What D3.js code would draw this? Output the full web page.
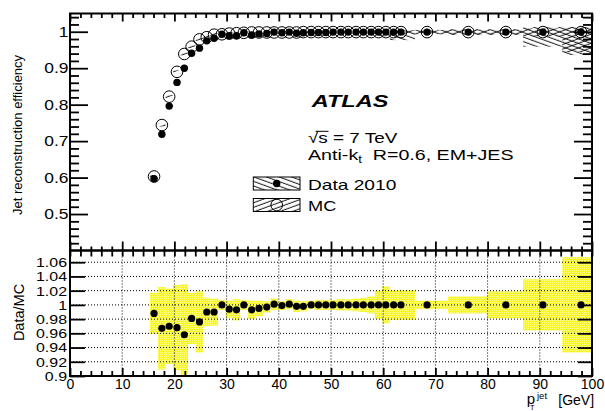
<!DOCTYPE html>
<html><head><meta charset="utf-8">
<script src="https://cdn.jsdelivr.net/npm/d3@7"></script>
<style>
body{margin:0;background:#fff}
text{font-family:"Liberation Sans",Arial,Helvetica,sans-serif;fill:#000}
</style>
</head><body>
<svg id="c" width="605" height="411" xmlns="http://www.w3.org/2000/svg"></svg>
<script>
// ---------------- data ----------------
const pt = [16.1,17.6,19.0,20.5,21.9,23.3,24.8,26.2,27.6,29.1,
            30.5,31.9,33.3,34.8,36.2,37.7,39.1,40.6,42.0,43.4,
            44.7,46.2,47.6,49.0,50.4,51.9,53.3,54.8,56.2,57.7,
            59.1,60.5,62.0,63.4,68.4,76.3,83.5,90.6,97.9];
const binEdges = [15.3,16.85,18.3,19.75,21.2,22.6,24.05,25.5,26.9,28.35,
                  29.8,31.2,32.6,34.05,35.5,36.95,38.4,39.85,41.3,42.7,
                  44.05,45.45,46.9,48.3,49.7,51.15,52.6,54.05,55.5,56.95,
                  58.4,59.8,61.25,62.7,66.1,72.4,80.0,86.8,94.3,100];
const effData = [0.597,0.719,0.796,0.861,0.900,0.941,0.955,0.975,0.982,0.993,
                 0.989,0.989,0.997,0.991,0.994,0.995,0.999,0.997,0.999,0.996,
                 0.997,0.998,0.998,0.998,0.999,0.999,0.999,0.999,0.999,0.999,
                 0.999,0.999,0.999,0.999,0.999,0.999,0.999,0.999,0.999];
const effMC = [0.603,0.744,0.822,0.890,0.939,0.959,0.979,0.985,0.992,0.993,
               0.995,0.996,0.997,0.998,0.998,0.998,0.998,0.998,0.998,0.998,
               0.999,0.999,0.999,0.999,0.999,0.999,0.999,0.999,0.999,0.999,
               0.999,0.999,0.999,0.999,0.999,0.999,0.999,0.999,0.999];
const errDataUp = [0.003,0.003,0.003,0.003,0.003,0.003,0.003,0.003,0.003,0.003,
                   0.003,0.003,0.003,0.003,0.003,0.003,0.003,0.003,0.003,0.003,
                   0.003,0.003,0.003,0.003,0.003,0.003,0.003,0.003,0.003,0.003,
                   0.004,0.004,0.005,0.005,0.006,0.008,0.008,0.014,0.014];
const errDataDn = [0.003,0.003,0.003,0.003,0.003,0.003,0.003,0.003,0.003,0.003,
                   0.003,0.003,0.003,0.003,0.003,0.003,0.003,0.003,0.003,0.003,
                   0.003,0.003,0.003,0.003,0.003,0.003,0.003,0.003,0.003,0.003,
                   0.010,0.012,0.022,0.022,0.006,0.008,0.008,0.040,0.063];
const errMCUp = [0.004,0.004,0.004,0.004,0.004,0.004,0.004,0.004,0.004,0.004,
                 0.004,0.004,0.004,0.004,0.004,0.004,0.004,0.004,0.004,0.004,
                 0.004,0.004,0.004,0.004,0.004,0.004,0.004,0.004,0.004,0.004,
                 0.005,0.005,0.005,0.005,0.005,0.006,0.006,0.010,0.014];
const errMCDn = [0.004,0.004,0.004,0.004,0.004,0.004,0.004,0.004,0.004,0.004,
                 0.004,0.004,0.004,0.004,0.004,0.004,0.004,0.004,0.004,0.004,
                 0.004,0.004,0.004,0.004,0.004,0.004,0.004,0.004,0.004,0.004,
                 0.005,0.005,0.005,0.005,0.005,0.006,0.006,0.012,0.055];
const ratio = [0.988,0.967,0.970,0.968,0.958,0.981,0.976,0.990,0.990,1.000,
               0.994,0.993,1.000,0.993,0.995,0.997,1.001,0.999,1.001,0.998,
               0.998,1.000,1.000,1.000,1.000,1.000,1.000,1.000,1.000,1.000,
               1.000,1.000,1.000,1.000,1.000,1.000,1.000,1.000,1.000];
const ratioErr = [0.029,0.058,0.053,0.060,0.071,0.036,0.043,0.020,0.019,0.007,
                  0.012,0.015,0.007,0.013,0.011,0.008,0.008,0.006,0.007,0.008,
                  0.007,0.006,0.007,0.007,0.007,0.008,0.008,0.009,0.010,0.012,
                  0.020,0.026,0.021,0.021,0.006,0.012,0.019,0.036,0.067];
const xTickValues = [0,10,20,30,40,50,60,70,80,90,100];
const xTickLabels = ["0","10","20","30","40","50","60","70","80","90","100"];
const yTopTickValues = [0.5,0.6,0.7,0.8,0.9,1.0];
const yTopTickLabels = ["0.5","0.6","0.7","0.8","0.9","1"];
const yBotTickValues = [0.9,0.92,0.94,0.96,0.98,1.0,1.02,1.04,1.06];
const yBotTickLabels = ["0.9","0.92","0.94","0.96","0.98","1","1.02","1.04","1.06"];
const legendLabels = ["Data 2010","MC"];

// ---------------- layout ----------------
const L = 70, R = 592, TT = 13.5, MID = 250.5, BB = 376;
const svg = d3.select("#c");
const x = d3.scaleLinear().domain([0,100]).range([L,R]);
const yT = d3.scaleLinear().domain([0.4,1.05]).range([MID,TT]);
const yB = d3.scaleLinear().domain([0.9,1.0765]).range([BB,MID]);
const xMinor = d3.range(0,101,2).filter(v=>v%10!==0);
const yTopMinor = d3.range(0.42,1.05,0.02).filter(v=>Math.abs(v*10-Math.round(v*10))>1e-6);

const defs = svg.append("defs");
function hatch(id, ang){
  const p = defs.append("pattern").attr("id",id).attr("patternUnits","userSpaceOnUse")
    .attr("width",12).attr("height",4.3).attr("patternTransform",`rotate(${ang})`);
  p.append("line").attr("x1",0).attr("x2",12).attr("y1",2).attr("y2",2)
    .attr("stroke","#000").attr("stroke-width",0.9);
}
hatch("hData",20); hatch("hMC",-20);
const yp = defs.append("pattern").attr("id","yel").attr("patternUnits","userSpaceOnUse")
  .attr("width",2).attr("height",2);
yp.append("rect").attr("width",2).attr("height",2).attr("fill","#f8f820").attr("shape-rendering","crispEdges");
yp.append("rect").attr("x",0).attr("y",0).attr("width",1).attr("height",1).attr("fill","#ffff80").attr("shape-rendering","crispEdges");
defs.append("clipPath").attr("id","cT").append("rect").attr("x",L).attr("y",TT).attr("width",R-L).attr("height",MID-TT);
defs.append("clipPath").attr("id","cB").append("rect").attr("x",L).attr("y",MID).attr("width",R-L).attr("height",BB-MID);

function stretch(sel, f){
  sel.each(function(){
    const n = this.getComputedTextLength();
    d3.select(this).attr("textLength", n*f).attr("lengthAdjust","spacingAndGlyphs");
  });
}
function axis(gen, tf){
  const g = svg.append("g").attr("transform",tf).call(gen);
  g.select(".domain").remove();
  g.selectAll(".tick line").attr("stroke","#000").attr("stroke-width",1.8);
  g.attr("font-family",null);
  g.selectAll("text").attr("font-family",'"Liberation Sans",Arial,sans-serif').attr("fill","#000");
  return g;
}
const idx = d3.range(pt.length);

// ---------------- top panel ----------------
const gT = svg.append("g").attr("clip-path","url(#cT)");
gT.selectAll("rect.bd").data(idx).join("rect").attr("class","bd")
  .attr("x",i=>x(binEdges[i])).attr("width",i=>x(binEdges[i+1])-x(binEdges[i]))
  .attr("y",i=>yT(effData[i]+errDataUp[i])).attr("height",i=>yT(effData[i]-errDataDn[i])-yT(effData[i]+errDataUp[i]))
  .attr("fill","url(#hData)");
gT.selectAll("rect.bm").data(idx).join("rect").attr("class","bm")
  .attr("x",i=>x(binEdges[i])).attr("width",i=>x(binEdges[i+1])-x(binEdges[i]))
  .attr("y",i=>yT(effMC[i]+errMCUp[i])).attr("height",i=>yT(effMC[i]-errMCDn[i])-yT(effMC[i]+errMCUp[i]))
  .attr("fill","url(#hMC)");
gT.selectAll("circle.mc").data(idx).join("circle").attr("class","mc")
  .attr("cx",i=>x(pt[i])).attr("cy",i=>yT(effMC[i])).attr("r",5.8)
  .attr("fill","none").attr("stroke","#000").attr("stroke-width",1);
gT.selectAll("circle.dt").data(idx).join("circle").attr("class","dt")
  .attr("cx",i=>x(pt[i])).attr("cy",i=>yT(effData[i])).attr("r",3.7).attr("fill","#000");

// top axes
const lt = axis(d3.axisLeft(yT).tickValues(yTopTickValues).tickFormat((d,i)=>yTopTickLabels[i])
  .tickSizeInner(-18).tickSizeOuter(0).tickPadding(1.5), `translate(${L},0)`);
lt.selectAll("text").attr("font-size",14.5); stretch(lt.selectAll("text"),1.2);
axis(d3.axisLeft(yT).tickValues(yTopMinor).tickFormat("").tickSizeInner(-9).tickSizeOuter(0), `translate(${L},0)`);
axis(d3.axisRight(yT).tickValues(yTopTickValues).tickFormat("").tickSizeInner(-18).tickSizeOuter(0), `translate(${R},0)`);
axis(d3.axisRight(yT).tickValues(yTopMinor).tickFormat("").tickSizeInner(-9).tickSizeOuter(0), `translate(${R},0)`);
axis(d3.axisBottom(x).tickValues(xTickValues).tickFormat("").tickSizeInner(8).tickSizeOuter(0), `translate(0,${TT})`);
axis(d3.axisBottom(x).tickValues(xMinor).tickFormat("").tickSizeInner(4.5).tickSizeOuter(0), `translate(0,${TT})`);
axis(d3.axisTop(x).tickValues(xTickValues).tickFormat("").tickSizeInner(9).tickSizeOuter(0), `translate(0,${MID})`);
axis(d3.axisTop(x).tickValues(xMinor).tickFormat("").tickSizeInner(4).tickSizeOuter(0), `translate(0,${MID})`);
svg.append("rect").attr("x",L).attr("y",TT).attr("width",R-L).attr("height",MID-TT)
  .attr("fill","none").attr("stroke","#000").attr("stroke-width",2);

// ---------------- bottom panel ----------------
const gB = svg.append("g").attr("clip-path","url(#cB)");
gB.selectAll("rect.band").data(idx).join("rect").attr("class","band")
  .attr("x",i=>x(binEdges[i])).attr("width",i=>x(binEdges[i+1])-x(binEdges[i]))
  .attr("y",i=>yB(ratio[i]+ratioErr[i])).attr("height",i=>yB(ratio[i]-ratioErr[i])-yB(ratio[i]+ratioErr[i]))
  .attr("fill","url(#yel)");
gB.selectAll("line.gy").data(yBotTickValues.slice(1)).join("line").attr("class","gy")
  .attr("x1",L).attr("x2",R).attr("y1",d=>yB(d)).attr("y2",d=>yB(d))
  .attr("stroke","#000").attr("stroke-width",1).attr("stroke-dasharray","1,2");
gB.selectAll("line.gx").data(xTickValues.slice(1,-1)).join("line").attr("class","gx")
  .attr("x1",d=>x(d)).attr("x2",d=>x(d)).attr("y1",MID).attr("y2",BB)
  .attr("stroke","#000").attr("stroke-width",1).attr("stroke-dasharray","1,2");
gB.selectAll("circle.r").data(idx).join("circle").attr("class","r")
  .attr("cx",i=>x(pt[i])).attr("cy",i=>yB(ratio[i])).attr("r",3.6).attr("fill","#000");

const lb = axis(d3.axisLeft(yB).tickValues(yBotTickValues).tickFormat((d,i)=>yBotTickLabels[i])
  .tickSizeInner(-15).tickSizeOuter(0).tickPadding(3), `translate(${L},0)`);
lb.selectAll("text").attr("font-size",13.5); stretch(lb.selectAll("text"),1.18);
axis(d3.axisRight(yB).tickValues(yBotTickValues).tickFormat("").tickSizeInner(-14).tickSizeOuter(0), `translate(${R},0)`);
const bx = axis(d3.axisBottom(x).tickValues(xTickValues).tickFormat((d,i)=>xTickLabels[i])
  .tickSizeInner(-8).tickSizeOuter(0).tickPadding(3), `translate(0,${BB})`);
bx.selectAll("text").attr("font-size",14);
axis(d3.axisBottom(x).tickValues(xMinor).tickFormat("").tickSizeInner(-5).tickSizeOuter(0), `translate(0,${BB})`);
axis(d3.axisBottom(x).tickValues(xTickValues).tickFormat("").tickSizeInner(6).tickSizeOuter(0), `translate(0,${MID})`);
axis(d3.axisBottom(x).tickValues(xMinor).tickFormat("").tickSizeInner(6).tickSizeOuter(0), `translate(0,${MID})`);
svg.append("rect").attr("x",L).attr("y",MID).attr("width",R-L).attr("height",BB-MID)
  .attr("fill","none").attr("stroke","#000").attr("stroke-width",2);

// ---------------- axis titles ----------------
svg.append("text").attr("transform","translate(22,135) rotate(-90)").attr("text-anchor","middle")
  .attr("font-size",13).text("Jet reconstruction efficiency");
svg.append("text").attr("transform","translate(23.5,312.5) rotate(-90)").attr("text-anchor","middle")
  .attr("font-size",14.5).text("Data/MC");
const xt = svg.append("text").attr("x",526.7).attr("y",404).attr("font-size",15);
xt.append("tspan").text("p");
xt.append("tspan").attr("font-size",9.5).attr("x",537).attr("dy",-5.5).text("jet");
xt.append("tspan").attr("font-size",7.5).attr("x",530).attr("dy",11.5).text("T");
xt.append("tspan").attr("font-size",14).attr("x",558.3).attr("dy",-5).text("[GeV]");

// ---------------- labels ----------------
svg.append("text").attr("x",311.7).attr("y",106.7).attr("font-size",16.5).attr("font-weight","bold")
  .attr("font-style","italic").attr("textLength",76.7).attr("lengthAdjust","spacingAndGlyphs").text("ATLAS");
const gs = svg.append("g").attr("transform","translate(308,143.3) scale(1.26,1)");
const ts = gs.append("text").attr("font-size",15);
ts.append("tspan").text("\u221A");
ts.append("tspan").text("s");
ts.append("tspan").text(" = 7 TeV");
{
  const n = ts.node();
  const s1 = n.getEndPositionOfChar(1).x;
  const r0 = n.getStartPositionOfChar(0).x;
  gs.append("line").attr("x1",r0+6).attr("x2",s1+0.5).attr("y1",-12).attr("y2",-12)
    .attr("stroke","#000").attr("stroke-width",1);
}
const ga = svg.append("g").attr("transform","translate(308,159.5) scale(1.31,1)");
const ta = ga.append("text").attr("font-size",15).style("white-space","pre");
ta.append("tspan").text("Anti-k");
ta.append("tspan").attr("font-size",10).attr("dy",3.5).text("t");
ta.append("tspan").attr("dy",-3.5).text("  R=0.6, EM+JES");

// legend
svg.append("rect").attr("x",253.3).attr("y",177).attr("width",46.7).attr("height",13)
  .attr("fill","url(#hData)").attr("stroke","#000").attr("stroke-width",1);
svg.append("circle").attr("cx",276.7).attr("cy",183.5).attr("r",3.7).attr("fill","#000");
svg.append("rect").attr("x",253.3).attr("y",198.5).attr("width",46.7).attr("height",13)
  .attr("fill","url(#hMC)").attr("stroke","#000").attr("stroke-width",1);
svg.append("circle").attr("cx",276.7).attr("cy",205).attr("r",5.8).attr("fill","none")
  .attr("stroke","#000").attr("stroke-width",1);
svg.append("text").attr("x",308).attr("y",190).attr("font-size",15)
  .attr("textLength",88.3).attr("lengthAdjust","spacingAndGlyphs").text(legendLabels[0]);
svg.append("text").attr("x",308).attr("y",211.3).attr("font-size",15)
  .attr("textLength",28.3).attr("lengthAdjust","spacingAndGlyphs").text(legendLabels[1]);
</script>
</body></html>
